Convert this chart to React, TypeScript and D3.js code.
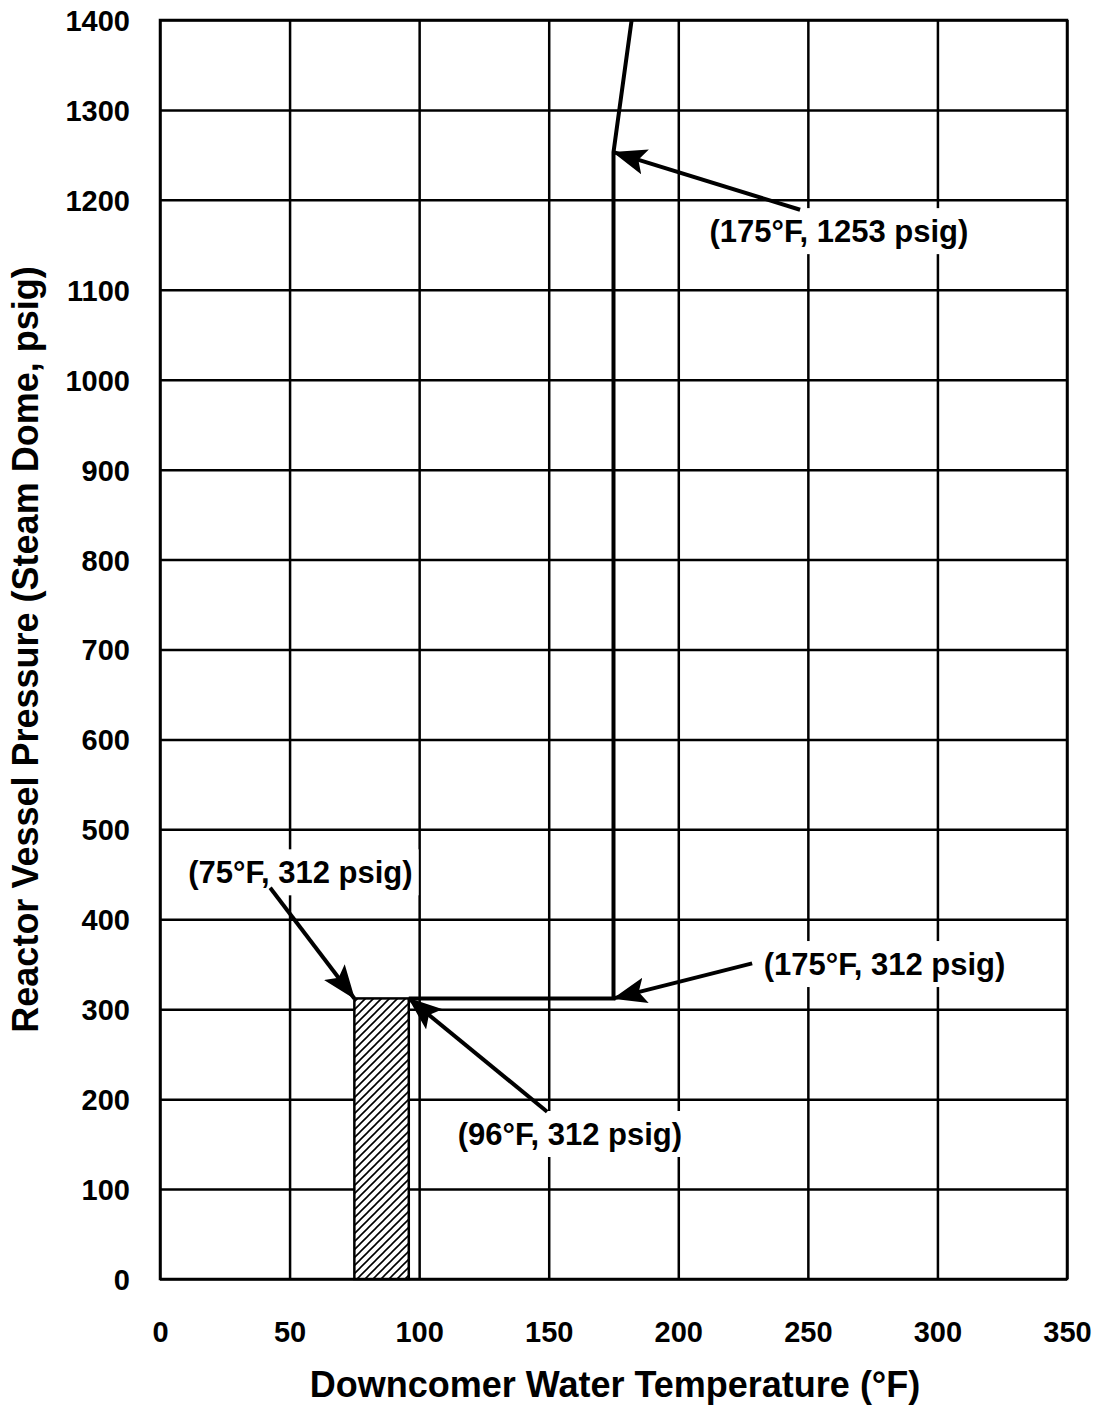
import React, { useEffect, useRef } from 'react';
import * as d3 from 'd3';

// axis ticks
const tempTicks = [0, 50, 100, 150, 200, 250, 300, 350];
const pressureTicks = [0, 100, 200, 300, 400, 500, 600, 700, 800, 900, 1000, 1100, 1200, 1300, 1400];

// limit curve (downcomer temp vs. pressure)
const limitTemp = [96, 175, 175, 182];
const limitPressure = [312, 312, 1253, 1400];

// hatched band
const bandTemp = [75, 96];
const bandPressure = 312;

// annotations: label, arrow tip, arrow tail, label anchor (all in data units)
const noteLabels = ['(175°F, 1253 psig)', '(75°F, 312 psig)', '(175°F, 312 psig)', '(96°F, 312 psig)'];
const noteTip = [[175, 1253], [75, 312], [175, 312], [96, 312]];
const noteTail = [[247, 1189], [42.5, 435], [228.5, 351], [149.4, 186]];
const noteAt = [[262, 1153], [54.2, 440], [279.6, 338], [158.2, 149]];

const App = () => {
  const chartRef = useRef<SVGSVGElement>(null);

  useEffect(() => {
    const W = 1099;
    const H = 1411;
    const margin = { top: 20, right: 32, bottom: 132, left: 160 };
    const width = W - margin.left - margin.right;
    const height = H - margin.top - margin.bottom;
    const font = '"Liberation Sans", Arial, Helvetica, sans-serif';

    const root = d3.select(chartRef.current);
    root.selectAll('*').remove();

    const defs = root.append('defs');
    defs.append('pattern')
      .attr('id', 'hatch')
      .attr('patternUnits', 'userSpaceOnUse')
      .attr('width', 8)
      .attr('height', 8)
      .append('path')
      .attr('d', 'M-2,2 l4,-4 M0,8 l8,-8 M6,10 l4,-4')
      .attr('stroke', '#000')
      .attr('stroke-width', 1.6);

    defs.append('marker')
      .attr('id', 'head')
      .attr('markerUnits', 'userSpaceOnUse')
      .attr('viewBox', '0 0 34 26')
      .attr('refX', 33)
      .attr('refY', 13)
      .attr('markerWidth', 34)
      .attr('markerHeight', 26)
      .attr('orient', 'auto')
      .append('path')
      .attr('d', 'M0,0 L34,13 L0,26 L7,13 Z')
      .attr('fill', '#000');

    const svg = root.append('g')
      .attr('transform', `translate(${margin.left},${margin.top})`);

    const x = d3.scaleLinear().domain([0, 350]).range([0, width]);
    const y = d3.scaleLinear().domain([0, 1400]).range([height, 0]);

    // grid + ticks
    const xAxis = svg.append('g')
      .attr('transform', `translate(0,${height})`)
      .call(d3.axisBottom(x).tickValues(tempTicks).tickSize(-height).tickFormat(d3.format('d')));
    const yAxis = svg.append('g')
      .call(d3.axisLeft(y).tickValues(pressureTicks).tickSize(-width).tickPadding(30).tickFormat(d3.format('d')));

    [xAxis, yAxis].forEach(a => {
      a.select('.domain').remove();
      a.selectAll('line').attr('stroke', '#000').attr('stroke-width', 2.5);
      a.selectAll('text')
        .attr('fill', '#000')
        .attr('font-family', font)
        .attr('font-weight', 'bold')
        .attr('font-size', 29);
    });
    xAxis.selectAll('text').attr('y', 63).attr('dy', 0);
    yAxis.selectAll('text').attr('dy', '0.36em');

    svg.append('rect')
      .attr('width', width)
      .attr('height', height)
      .attr('fill', 'none')
      .attr('stroke', '#000')
      .attr('stroke-width', 2.5);

    // hatched band
    const band = svg.append('g');
    band.append('rect')
      .attr('x', x(bandTemp[0]))
      .attr('y', y(bandPressure))
      .attr('width', x(bandTemp[1]) - x(bandTemp[0]))
      .attr('height', y(0) - y(bandPressure))
      .attr('fill', '#fff');
    band.append('rect')
      .attr('x', x(bandTemp[0]))
      .attr('y', y(bandPressure))
      .attr('width', x(bandTemp[1]) - x(bandTemp[0]))
      .attr('height', y(0) - y(bandPressure))
      .attr('fill', 'url(#hatch)')
      .attr('stroke', '#000')
      .attr('stroke-width', 2.5);

    // limit curve
    const line = d3.line<number>()
      .x(i => x(limitTemp[i]))
      .y(i => y(limitPressure[i]));
    svg.append('path')
      .attr('d', line(d3.range(limitTemp.length)))
      .attr('fill', 'none')
      .attr('stroke', '#000')
      .attr('stroke-width', 4);

    // annotations: white box, label, arrow
    const labelSize = 31;
    const notes = svg.append('g');
    noteLabels.forEach((txt, i) => {
      const tx = x(noteAt[i][0]);
      const ty = y(noteAt[i][1]);
      const box = notes.append('rect')
        .attr('fill', '#ffffff')
        .attr('stroke', 'none');
      const t = notes.append('text')
        .attr('x', tx)
        .attr('y', ty)
        .attr('text-anchor', 'middle')
        .attr('font-family', font)
        .attr('font-weight', 'bold')
        .attr('font-size', labelSize)
        .attr('fill', '#000')
        .text(txt);
      let bw = 0;
      const node = t.node() as SVGTextElement | null;
      if (node && node.getComputedTextLength) bw = node.getComputedTextLength();
      if (!bw || !isFinite(bw)) bw = txt.length * 0.47 * labelSize;
      box
        .attr('x', tx - bw / 2 - 6)
        .attr('y', ty - 34)
        .attr('width', bw + 12)
        .attr('height', 46);
      notes.append('line')
        .attr('x1', x(noteTail[i][0]))
        .attr('y1', y(noteTail[i][1]))
        .attr('x2', x(noteTip[i][0]))
        .attr('y2', y(noteTip[i][1]))
        .attr('stroke', '#000')
        .attr('stroke-width', 4)
        .attr('marker-end', 'url(#head)');
    });

    // axis titles
    svg.append('text')
      .attr('x', width / 2 + 1.5)
      .attr('y', height + 118)
      .attr('text-anchor', 'middle')
      .attr('font-family', font)
      .attr('font-weight', 'bold')
      .attr('font-size', 36)
      .text('Downcomer Water Temperature (°F)');

    svg.append('text')
      .attr('transform', `translate(${-margin.left + 38},${height / 2}) rotate(-90)`)
      .attr('text-anchor', 'middle')
      .attr('font-family', font)
      .attr('font-weight', 'bold')
      .attr('font-size', 36)
      .text('Reactor Vessel Pressure (Steam Dome, psig)');
  }, []);

  return (
    <svg
      ref={chartRef}
      width={1099}
      height={1411}
      style={{ position: 'absolute', left: 0, top: 0, background: '#fff' }}
    />
  );
};

export default App;
